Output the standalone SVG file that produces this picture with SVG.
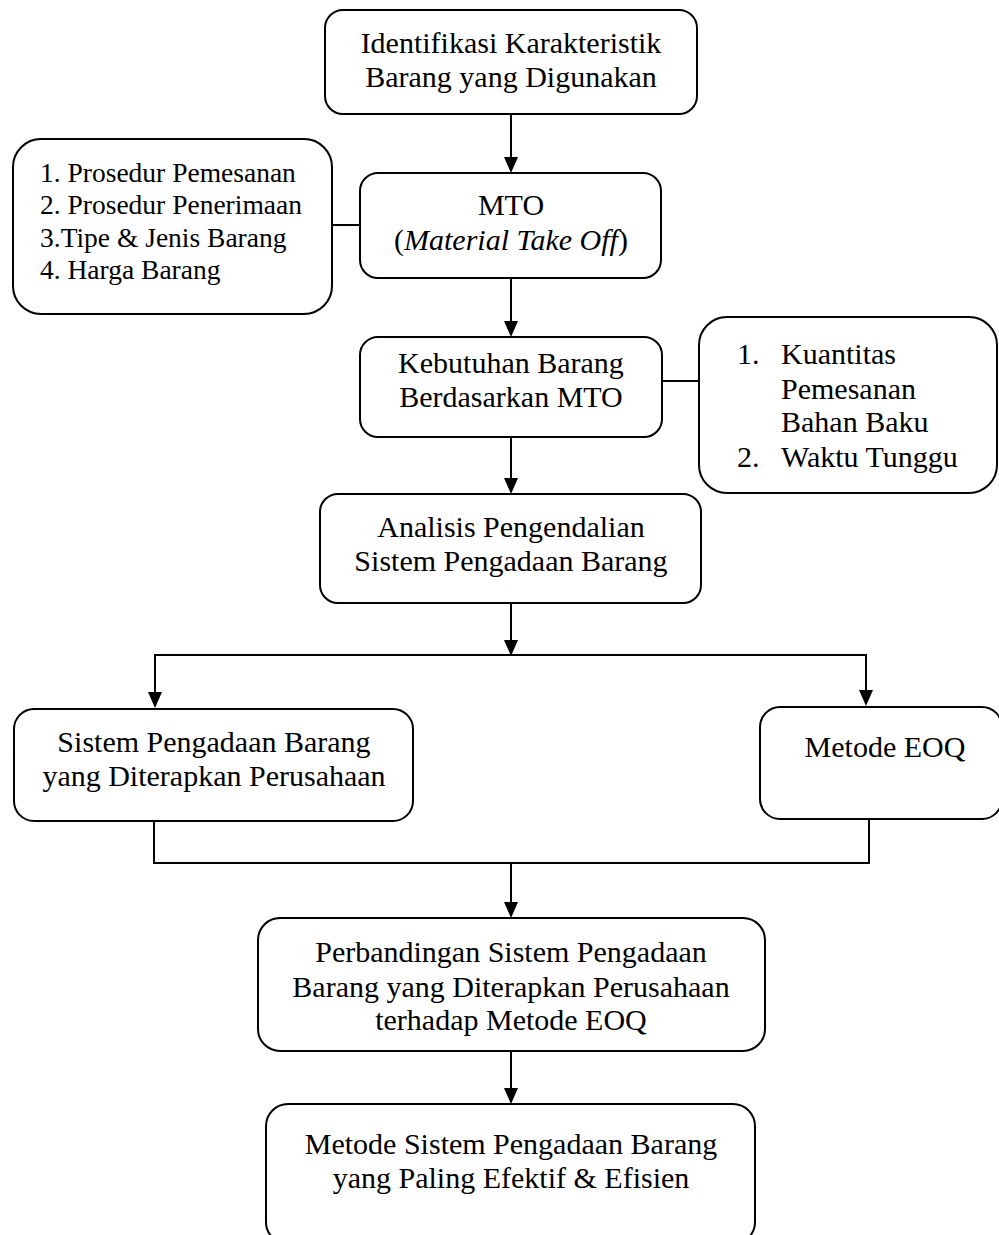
<svg xmlns="http://www.w3.org/2000/svg" width="999" height="1235" viewBox="0 0 999 1235">
<defs>
<style>
.box{fill:#fff;stroke:#000;stroke-width:2}
text{font-family:'Liberation Serif','Times New Roman',serif;font-size:30px;fill:#000}
.sm{font-size:27.5px}
.c{text-anchor:middle}
.ln{fill:none;stroke:#000;stroke-width:2}
.ah{fill:#000}
</style>
</defs>
<rect width="999" height="1235" fill="#fff"/>
<g id="connectors">
<line class="ln" x1="511" y1="114" x2="511" y2="157"/>
<path class="ah" d="M504,157 L518,157 L511,173 Z"/>
<line class="ln" x1="332" y1="225" x2="360" y2="225"/>
<line class="ln" x1="511" y1="278" x2="511" y2="321"/>
<path class="ah" d="M504,321 L518,321 L511,337 Z"/>
<line class="ln" x1="662" y1="381" x2="699" y2="381"/>
<line class="ln" x1="511" y1="437" x2="511" y2="478"/>
<path class="ah" d="M504,478 L518,478 L511,494 Z"/>
<line class="ln" x1="511" y1="603" x2="511" y2="640"/>
<path class="ah" d="M504,640 L518,640 L511,656 Z"/>
<line class="ln" x1="155" y1="655" x2="867" y2="655"/>
<line class="ln" x1="155" y1="654" x2="155" y2="692"/>
<path class="ah" d="M148,692 L162,692 L155,708 Z"/>
<line class="ln" x1="866" y1="654" x2="866" y2="690"/>
<path class="ah" d="M859,690 L873,690 L866,706 Z"/>
<line class="ln" x1="154" y1="821" x2="154" y2="863"/>
<line class="ln" x1="869" y1="819" x2="869" y2="863"/>
<line class="ln" x1="153" y1="863" x2="870" y2="863"/>
<line class="ln" x1="511" y1="863" x2="511" y2="902"/>
<path class="ah" d="M504,902 L518,902 L511,918 Z"/>
<line class="ln" x1="511" y1="1051" x2="511" y2="1088"/>
<path class="ah" d="M504,1088 L518,1088 L511,1104 Z"/>
</g>
<g id="n1">
<rect class="box" x="325" y="10" width="372" height="104" rx="18"/>
<text class="c" x="511" y="53">Identifikasi Karakteristik</text>
<text class="c" x="511" y="87">Barang yang Digunakan</text>
</g>
<g id="n2">
<rect class="box" x="13" y="139" width="319" height="175" rx="28"/>
<text class="sm" x="40" y="182">1. Prosedur Pemesanan</text>
<text class="sm" x="40" y="214">2. Prosedur Penerimaan</text>
<text class="sm" x="40" y="247">3.Tipe &amp; Jenis Barang</text>
<text class="sm" x="40" y="279">4. Harga Barang</text>
</g>
<g id="n3">
<rect class="box" x="360" y="173" width="301" height="105" rx="18"/>
<text class="c" x="511" y="215">MTO</text>
<text class="c" x="511" y="250">(<tspan font-style="italic">Material Take Off</tspan>)</text>
</g>
<g id="n4">
<rect class="box" x="360" y="337" width="302" height="100" rx="18"/>
<text class="c" x="511" y="373">Kebutuhan Barang</text>
<text class="c" x="511" y="407">Berdasarkan MTO</text>
</g>
<g id="n5">
<rect class="box" x="699" y="317" width="298" height="176" rx="28"/>
<text x="737" y="364">1.</text>
<text x="781" y="364">Kuantitas</text>
<text x="781" y="399">Pemesanan</text>
<text x="781" y="432">Bahan Baku</text>
<text x="737" y="467">2.</text>
<text x="781" y="467">Waktu Tunggu</text>
</g>
<g id="n6">
<rect class="box" x="320" y="494" width="381" height="109" rx="18"/>
<text class="c" x="511" y="537">Analisis Pengendalian</text>
<text class="c" x="511" y="571">Sistem Pengadaan Barang</text>
</g>
<g id="n7">
<rect class="box" x="14" y="709" width="399" height="112" rx="20"/>
<text class="c" x="214" y="752">Sistem Pengadaan Barang</text>
<text class="c" x="214" y="786">yang Diterapkan Perusahaan</text>
</g>
<g id="n8">
<rect class="box" x="760" y="707" width="242" height="112" rx="20"/>
<text class="c" x="885" y="757">Metode EOQ</text>
</g>
<g id="n9">
<rect class="box" x="258" y="918" width="507" height="133" rx="22"/>
<text class="c" x="511" y="962">Perbandingan Sistem Pengadaan</text>
<text class="c" x="511" y="997">Barang yang Diterapkan Perusahaan</text>
<text class="c" x="511" y="1030">terhadap Metode EOQ</text>
</g>
<g id="n10">
<rect class="box" x="266" y="1104" width="489" height="140" rx="22"/>
<text class="c" x="511" y="1154">Metode Sistem Pengadaan Barang</text>
<text class="c" x="511" y="1188">yang Paling Efektif &amp; Efisien</text>
</g>
</svg>
